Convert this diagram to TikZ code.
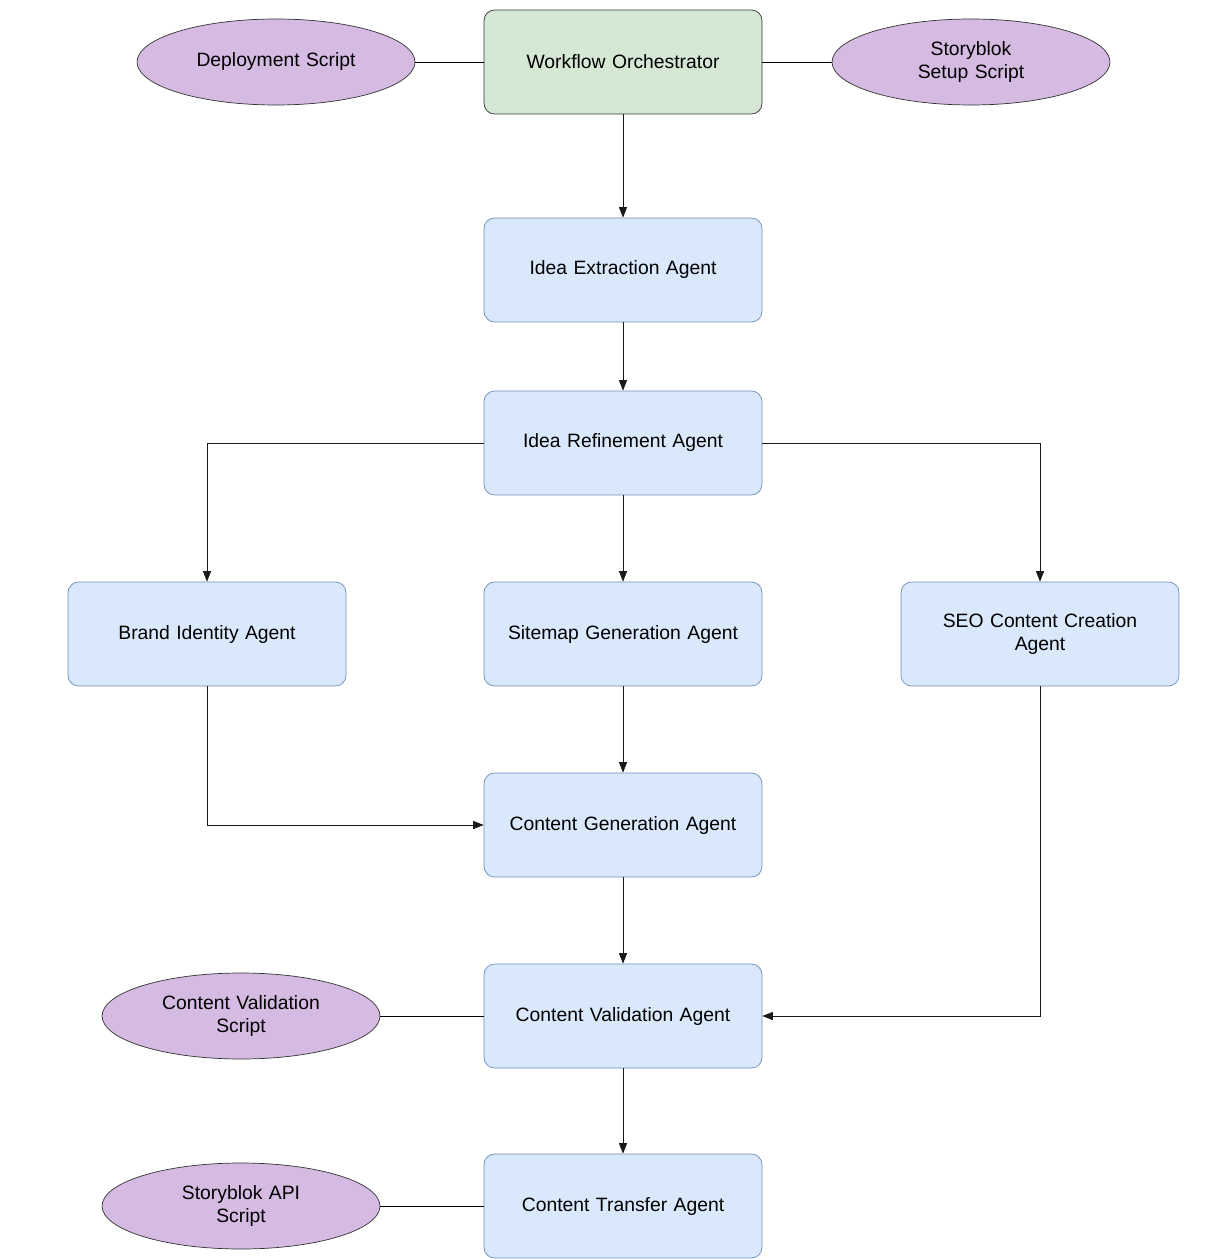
\documentclass[tikz,border=0pt]{standalone}
\usepackage{fontspec}
\setmainfont{Liberation Sans}
\usetikzlibrary{arrows.meta,shapes.geometric,positioning}
\definecolor{agentfill}{HTML}{DAE8FC}
\definecolor{agentdraw}{HTML}{6C8EBF}
\definecolor{orchfill}{HTML}{D5E8D4}
\definecolor{scriptfill}{HTML}{D5BBE2}
\begin{document}
\begin{tikzpicture}[
    x=0.02cm, y=-0.02cm,
    >={Triangle[angle=45:6pt,length=6pt]},
    every node/.style={font=\fontsize{11}{13}\selectfont, align=center},
    agent/.style={draw=agentdraw, fill=agentfill, rounded corners=6pt, minimum width=5.56cm, minimum height=2.08cm, text width=4.6cm},
    orch/.style={agent, draw=black!80, fill=orchfill},
    script/.style={draw=black!80, fill=scriptfill, ellipse, minimum width=5.56cm, minimum height=1.72cm, text width=3.6cm, inner sep=0pt},
    flow/.style={->, draw=black!90}]
  \useasboundingbox (0,0) rectangle (1212,1260);
  \node[orch] (orch) at (623,62) {Workflow Orchestrator};
  \node[script] (deploy) at (276,62) {Deployment Script};
  \node[script] (setup) at (971,62) {Storyblok Setup Script};
  \node[agent] (extract) at (623,270) {Idea Extraction Agent};
  \node[agent] (refine) at (623,443) {Idea Refinement Agent};
  \node[agent] (brand) at (207,634) {Brand Identity Agent};
  \node[agent] (sitemap) at (623,634) {Sitemap Generation Agent};
  \node[agent] (seo) at (1040,634) {SEO Content Creation\\Agent};
  \node[agent] (gen) at (623,825) {Content Generation Agent};
  \node[agent] (valid) at (623,1016) {Content Validation Agent};
  \node[agent] (transfer) at (623,1206) {Content Transfer Agent};
  \node[script] (vscript) at (241,1016) {Content Validation\\Script};
  \node[script] (api) at (241,1206) {Storyblok API\\Script};
  % plain links
  \draw (deploy) -- (orch);
  \draw (orch) -- (setup);
  \draw (vscript) -- (valid);
  \draw (api) -- (transfer);
  % flow
  \draw[flow] (orch) -- (extract);
  \draw[flow] (extract) -- (refine);
  \draw[flow] (refine) -- (sitemap);
  \draw[flow] (refine.west) -| (brand.north);
  \draw[flow] (refine.east) -| (seo.north);
  \draw[flow] (sitemap) -- (gen);
  \draw[flow] (brand.south) |- (gen.west);
  \draw[flow] (gen) -- (valid);
  \draw[flow] (seo.south) |- (valid.east);
  \draw[flow] (valid) -- (transfer);
\end{tikzpicture}
\end{document}
